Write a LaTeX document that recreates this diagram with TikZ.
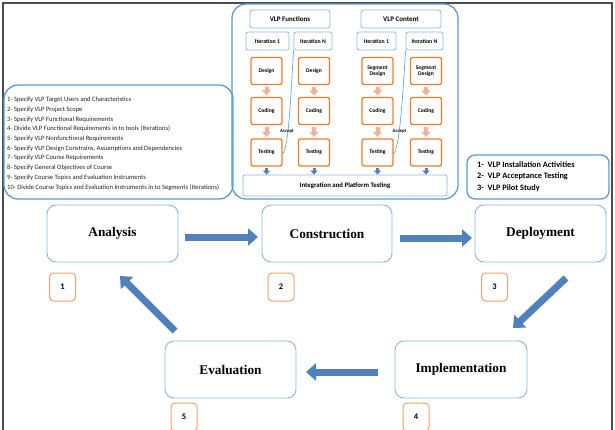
\documentclass[tikz,border=0pt]{standalone}
\usepackage{fontspec}
\setmainfont{Liberation Serif}
\newfontfamily\calfont{Carlito}
\usetikzlibrary{arrows.meta}
\definecolor{boxblue}{RGB}{141,180,226}
\definecolor{panelblue}{RGB}{91,155,213}
\definecolor{arrowblue}{RGB}{79,129,189}
\definecolor{orng}{RGB}{237,125,49}
\definecolor{numorange}{RGB}{244,160,110}
\definecolor{pinkarrow}{RGB}{244,177,150}
\definecolor{txtgray}{RGB}{35,35,35}
\tikzset{
  mainbox/.style={draw=boxblue, line width=0.9pt, rounded corners=9pt, minimum height=57pt, inner sep=0pt, font=\fontsize{13.3}{15}\selectfont\bfseries},
  numbox/.style={draw=numorange, line width=1pt, rounded corners=4pt, minimum width=26pt, minimum height=28pt, inner sep=0pt, font=\calfont\bfseries\fontsize{8.5}{10}\selectfont},
  bigarrow/.style={line width=7pt, arrowblue, -{Triangle[width=17pt,length=10pt]}},
  panelbox/.style={draw=panelblue, line width=1.3pt},
  hdrbox/.style={draw=boxblue, line width=0.8pt, rounded corners=2.5pt, minimum height=18pt, inner sep=0pt, font=\calfont\bfseries\fontsize{7}{8}\selectfont},
  itbox/.style={draw=boxblue, line width=0.8pt, rounded corners=2pt, minimum height=18pt, inner sep=0pt, font=\calfont\bfseries\fontsize{5.8}{6.5}\selectfont},
  stagebox/.style={draw=orng, line width=1.3pt, rounded corners=2pt, minimum width=31pt, minimum height=27pt, inner sep=0pt, align=center, font=\calfont\bfseries\fontsize{5.6}{6.4}\selectfont},
  pinkarr/.style={line width=4pt, pinkarrow, -{Triangle[width=9pt,length=5pt]}},
  smallblue/.style={line width=3pt, arrowblue, -{Triangle[width=7pt,length=4pt]}},
  acceptline/.style={draw=panelblue, line width=0.6pt},
  acceptlbl/.style={inner sep=0pt, font=\calfont\bfseries\fontsize{4.8}{5}\selectfont}
}
\begin{document}
\begin{tikzpicture}[x=1pt, y=-1pt]
\useasboundingbox (0,0) rectangle (615,429);
\fill[white] (0,0) rectangle (615,429);
% outer frame
\draw[line width=1.5pt, black!70] (3,432) -- (3,3) -- (612,3) -- (612,432);

% left panel
\draw[panelbox, rounded corners=14pt] (4,85) rectangle (233,199);
\node[anchor=north west, inner sep=0pt, align=left, text=txtgray, font=\calfont\fontsize{6.6}{9.7}\selectfont] (reqs) at (7,97) {%
1- Specify VLP Target Users and Characteristics\\
2- Specify VLP Project Scope\\
3- Specify VLP Functional Requirements\\
4- Divide VLP Functional Requirements in to tools (Iterations)\\
5- Specify VLP Nonfunctional Requirements\\
6- Specify VLP Design Constrains, Assumptions and Dependencies\\
7- Specify VLP Course Requirements\\
8- Specify General Objectives of Course\\
9- Specify Course Topics and Evaluation Instruments\\
10- Divide Course Topics and Evaluation Instruments in to Segments (Iterations)};

% right panel
\draw[panelbox, rounded corners=8pt] (467,155) rectangle (609,199);
\node[anchor=north west, inner sep=0pt, align=left, font=\calfont\bfseries\fontsize{8.3}{11.5}\selectfont] (deptasks) at (477,161) {%
1-\ \ VLP Installation Activities\\
2-\ \ VLP Acceptance Testing\\
3-\ \ VLP Pilot Study};

% top panel
\draw[panelbox, rounded corners=14pt] (232,4) rectangle (458,199);
\node[hdrbox, minimum width=80pt] (funcs) at (290,19) {VLP Functions};
\node[hdrbox, minimum width=80pt] (content) at (401,19) {VLP Content};
\node[itbox, minimum width=43pt] (it1a) at (267.5,41) {Iteration 1};
\node[itbox, minimum width=38pt] (itNa) at (313,41) {Iteration N};
\node[itbox, minimum width=39pt] (it1b) at (376.5,41) {Iteration 1};
\node[itbox, minimum width=37pt] (itNb) at (424.5,41) {Iteration N};

\node[stagebox] (de1) at (266.5,71) {Design};
\node[stagebox] (de2) at (314,71) {Design};
\node[stagebox] (de3) at (377.5,71) {Segment\\Design};
\node[stagebox] (de4) at (426,71) {Segment\\Design};
\node[stagebox] (co1) at (266.5,111) {Coding};
\node[stagebox] (co2) at (314,111) {Coding};
\node[stagebox] (co3) at (377.5,111) {Coding};
\node[stagebox] (co4) at (426,111) {Coding};
\node[stagebox] (te1) at (266.5,152.5) {Testing};
\node[stagebox] (te2) at (314,152.5) {Testing};
\node[stagebox] (te3) at (377.5,152.5) {Testing};
\node[stagebox] (te4) at (426,152.5) {Testing};

\node[draw=boxblue, line width=0.8pt, rounded corners=2pt, minimum width=204pt, minimum height=21pt, inner sep=0pt, font=\calfont\bfseries\fontsize{6.8}{7.5}\selectfont] (integ) at (345,185.5) {Integration and Platform Testing};

\foreach \c in {1,2,3,4}{
  \draw[pinkarr, shorten <=2pt, shorten >=1.5pt] (de\c.south) -- (co\c.north);
  \draw[pinkarr, shorten <=2pt, shorten >=1.5pt] (co\c.south) -- (te\c.north);
  \draw[smallblue, shorten <=1pt, shorten >=0pt] (te\c.south) -- (integ.north -| te\c.south);
}

\draw[acceptline] ([yshift=-1.5pt]te1.east) .. controls (289,147) and (291,90) .. (itNa.south west);
\draw[acceptline] ([yshift=-1.5pt]te3.east) .. controls (400,147) and (403,90) .. (itNb.south west);
\node[acceptlbl] (acc1) at (287,131) {Accept};
\node[acceptlbl] (acc2) at (399.5,131) {Accept};

% main phases
\node[mainbox, minimum width=131pt] (analysis) at (112.5,233.5) {Analysis};
\node[mainbox, minimum width=130pt] (construction) at (327,233.5) {Construction};
\node[mainbox, minimum width=131pt] (deployment) at (540.5,233.5) {Deployment};
\node[mainbox, minimum width=131pt] (evaluation) at (230.5,369.5) {Evaluation};
\node[mainbox, minimum width=132pt] (implementation) at (461,369.5) {Implementation};

\node[numbox] (n1) at (62.5,287) {1};
\node[numbox] (n2) at (281,287) {2};
\node[numbox] (n3) at (494.5,287) {3};
\node[numbox] (n4) at (416,417) {4};
\node[numbox] (n5) at (184,417) {5};

% block arrows
\coordinate (ac1) at (185,237);
\coordinate (ac2) at (258,237);
\coordinate (cd1) at (400,238);
\coordinate (cd2) at (472,238);
\coordinate (di1) at (566,278);
\coordinate (di2) at (513,328);
\coordinate (ie1) at (378,372);
\coordinate (ie2) at (306,372);
\coordinate (ea1) at (175,331);
\coordinate (ea2) at (120,276);
\draw[bigarrow] (ac1) -- (ac2);
\draw[bigarrow] (cd1) -- (cd2);
\draw[bigarrow] (di1) -- (di2);
\draw[bigarrow] (ie1) -- (ie2);
\draw[bigarrow] (ea1) -- (ea2);
\end{tikzpicture}
\end{document}
